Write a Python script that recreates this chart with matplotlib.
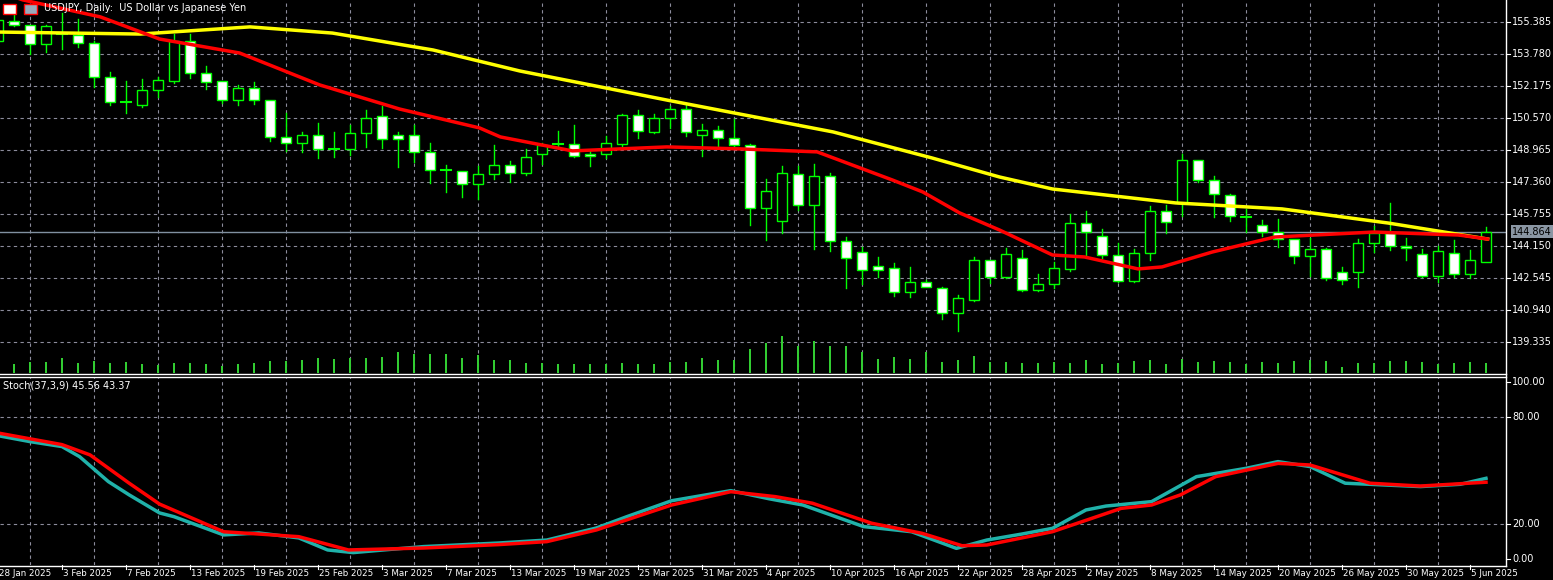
import matplotlib
matplotlib.use("Agg")
import matplotlib.pyplot as plt
import numpy as np

W, H = 1553, 580
# ---------------- data ----------------
idx = list(range(-1, 93))
opens = [154.43,155.44,155.24,154.28,154.80,154.73,154.33,152.63,151.37,151.22,151.98,152.43,154.43,152.83,152.43,151.47,152.08,151.47,149.62,149.32,149.72,149.02,149.02,149.82,150.67,149.72,149.72,148.87,147.96,147.91,147.26,147.76,148.21,147.81,148.77,149.22,149.27,148.77,148.77,149.27,150.72,149.87,150.57,151.02,149.72,149.97,149.57,149.22,146.06,145.40,147.76,146.21,147.66,144.40,143.85,143.15,143.05,141.84,142.35,142.05,140.79,141.44,143.45,142.60,143.55,141.94,142.25,143.00,145.30,144.65,143.70,142.40,143.80,145.91,146.31,148.46,147.46,146.71,145.61,145.20,144.85,144.50,143.65,144.00,142.85,142.85,144.30,144.80,144.15,143.75,142.65,143.80,142.75,143.35]
highs = [155.74,155.74,155.24,155.24,155.84,155.54,154.43,152.88,152.43,152.53,152.63,154.78,154.78,153.18,152.43,152.23,152.38,151.47,150.82,149.87,150.32,149.87,150.22,150.97,151.17,149.87,150.22,149.32,148.21,147.91,148.16,149.22,148.41,149.02,149.32,149.92,150.22,148.97,149.67,150.77,150.97,150.77,151.17,151.22,150.27,150.17,150.52,149.27,147.51,148.16,148.16,148.26,147.81,144.60,144.10,143.60,143.30,143.10,142.45,142.10,141.69,143.60,143.45,144.05,143.95,142.75,143.35,145.76,145.91,145.00,144.30,144.00,146.16,146.21,148.77,148.46,147.66,146.76,146.01,145.45,145.50,144.50,144.55,144.05,143.10,144.50,145.15,146.31,144.55,144.00,144.15,144.45,143.95,145.10]
lows = [154.33,155.19,153.78,153.88,154.03,154.13,152.13,151.22,150.82,151.12,151.62,152.33,152.58,152.03,151.32,151.22,151.27,149.42,148.92,148.87,148.57,148.62,148.72,149.12,149.07,148.11,148.36,147.31,146.86,146.61,146.51,147.51,147.36,147.71,148.26,149.12,148.62,148.16,148.57,149.17,149.57,149.82,150.07,149.67,148.67,149.07,149.12,145.20,144.45,144.80,145.96,144.00,143.90,142.05,142.25,142.60,141.64,141.59,142.10,140.49,139.89,141.40,142.30,142.55,141.90,141.90,142.05,142.90,143.70,143.55,142.35,142.35,143.45,144.80,145.66,147.36,145.61,145.40,144.85,144.65,144.10,143.30,142.65,142.45,142.25,142.10,143.85,143.95,143.45,142.60,142.35,142.60,142.55,143.35]
closes = [155.49,155.24,154.28,155.19,154.78,154.33,152.63,151.37,151.35,151.98,152.48,154.43,152.83,152.38,151.47,152.08,151.47,149.62,149.32,149.72,149.02,149.00,149.82,150.57,149.52,149.52,148.87,147.96,147.94,147.26,147.76,148.21,147.81,148.62,149.22,149.27,148.67,148.67,149.32,150.72,149.92,150.57,151.02,149.87,149.97,149.57,149.22,146.06,146.91,147.81,146.21,147.66,144.40,143.55,142.95,142.95,141.84,142.35,142.10,140.79,141.54,143.45,142.60,143.75,141.94,142.25,143.05,145.30,144.85,143.70,142.40,143.80,145.91,145.36,148.46,147.46,146.76,145.66,145.59,144.85,144.50,143.65,144.00,142.55,142.45,144.30,144.80,144.15,144.05,142.65,143.90,142.75,143.45,144.864]
volume = [28,34,34,46,31,37,31,34,28,25,31,31,28,22,28,31,37,37,40,46,43,46,46,49,64,58,58,58,46,55,40,40,31,31,28,28,28,28,31,28,28,34,34,46,40,40,73,91,
          112,80,95,82,82,62,43,49,43,64,34,40,52,34,34,31,31,34,31,40,28,31,37,40,28,43,34,37,34,28,34,31,37,40,37,19,31,31,37,37,34,28,31,34,31]
ma_fast_idx = [-0.9,0.56,5.4,9.1,14.1,19.1,24.1,29.1,30.4,34.9,40.8,45.4,50.2,54.9,56.8,59.1,61.6,64.9,66.9,70.25,71.75,74.9,78.8,85.0,90.3,92.1]
ma_fast = [156.9,156.49,155.64,154.53,153.83,152.23,151.02,150.07,149.62,148.92,149.12,149.02,148.87,147.46,146.86,145.81,144.95,143.70,143.60,143.00,143.10,143.85,144.60,144.85,144.70,144.50]
ma_slow_idx = [-0.9,7.9,14.75,19.9,26.2,31.6,40.8,51.2,57.4,61.6,64.9,72.6,79.25,85.9,92.1]
ma_slow = [154.88,154.78,155.14,154.83,153.98,152.93,151.47,149.87,148.56,147.61,147.01,146.31,146.01,145.30,144.50]
stk_idx = [-0.9,1.0,3.0,4.1,5.9,7.2,9.1,10,13.1,15.3,17.8,19.6,21.2,23.1,25.6,30.25,33.3,36.4,38.3,41.1,44.8,47.2,49.3,53.1,56.1,58.9,60.8,63,64.9,67,68.25,71.1,73.9,77,79,81,83.2,87.9,90.4,92]
stk = [69.5,66.3,63.5,57.8,43.7,36.2,26,23.9,13.6,14.7,11.9,5.1,3.6,5.1,7,9,10.7,17.5,23.9,32.9,38.6,34.0,30.5,18.3,15.4,6,10.7,14.1,17.3,27.7,29.9,32.4,46.5,51.2,55,52.2,42.8,40.9,42.2,45.56]
sig_idx = [-0.9,3.0,4.75,7.2,9.1,13.1,17.8,20.9,25.6,30.25,33.3,36.4,41.1,44.8,47.6,49.9,53.6,56.75,59.25,60.8,64.9,69.2,71.1,72.9,75.1,79,81,84.75,87.9,92]
sig = [71,64.6,58.8,42.8,31,15.4,12.6,5.1,6.2,8.1,9.8,16.4,30.5,38,35.2,31.5,20.2,14.5,7.5,7.9,15.4,28.6,30.5,36.2,46.5,54,53.1,42.8,41.2,43.37]
date_labels = ["28 Jan 2025","3 Feb 2025","7 Feb 2025","13 Feb 2025","19 Feb 2025","25 Feb 2025","3 Mar 2025","7 Mar 2025","13 Mar 2025","19 Mar 2025","25 Mar 2025","31 Mar 2025","4 Apr 2025","10 Apr 2025","16 Apr 2025","22 Apr 2025","28 Apr 2025","2 May 2025","8 May 2025","14 May 2025","20 May 2025","26 May 2025","30 May 2025","5 Jun 2025"]
price_ticks = [155.385,153.780,152.175,150.570,148.965,147.360,145.755,144.150,142.545,140.940,139.335]
stoch_ticks = [100.0,80.0,20.0,0.0]
last_price = 144.864

# ---------------- layout ----------------
fig = plt.figure(figsize=(W/100, H/100), dpi=100, facecolor="black")
def fx(px): return px / W
def fy(py): return 1 - py / H
axw = 1506
XL = (-0.875, 93.25)
ax = fig.add_axes([0, fy(373), fx(axw), 373/H], facecolor="black")
ax.set_xlim(*XL); ax.set_ylim(137.78, 156.488)
sx = fig.add_axes([0, fy(565), fx(axw), 188/H], facecolor="black")
sx.set_xlim(*XL); sx.set_ylim(-3.4, 102.8)
for a in (ax, sx):
    for s in a.spines.values(): s.set_visible(False)
    a.set_xticks([]); a.set_yticks([])

gcol = "#8c8c9c"
gkw = dict(color=gcol, lw=0.8, ls=(0, (3, 3)), zorder=0)
for k in range(1, 93, 4):
    ax.axvline(k, **gkw); sx.axvline(k, **gkw)
for p in price_ticks:
    ax.axhline(p, **gkw)
for v in (80, 20):
    sx.axhline(v, **gkw)

# volume
vx = ax.twinx()
vx.set_ylim(0, 373*3); vx.set_xlim(*XL); vx.axis("off")
vx.bar(np.arange(0, 93), volume, width=0.13, color="#32cd32", zorder=1)

ax.axhline(last_price, color="#8090a0", lw=1, zorder=1)

green = "#00ff00"
bw = 0.62
for k, o, h, l, c in zip(idx, opens, highs, lows, closes):
    top, bot = max(o, c), min(o, c)
    ax.plot([k, k], [h, top], color=green, lw=1, zorder=3)
    ax.plot([k, k], [bot, l], color=green, lw=1, zorder=3)
    if top - bot < 0.06:
        ax.plot([k-bw/2, k+bw/2], [c, c], color=green, lw=1.5, zorder=3)
    else:
        ax.add_patch(plt.Rectangle((k-bw/2, bot), bw, top-bot,
                     facecolor="white" if c < o else "black", edgecolor=green, lw=1, zorder=3))

ax.plot(ma_slow_idx, ma_slow, color="#ffff00", lw=2.5, zorder=4)
ax.plot(ma_fast_idx, ma_fast, color="#ff0000", lw=2.5, zorder=5)

sx.plot(stk_idx, stk, color="#20b2aa", lw=2.5, zorder=3)
sx.plot(sig_idx, sig, color="#ff0000", lw=2.5, zorder=4)

# borders
fig.add_artist(plt.Line2D([fx(axw), fx(axw)], [fy(0), fy(566)], color="white", lw=1))
for yy in (373.5, 376.5, 565.5):
    fig.add_artist(plt.Line2D([0, fx(axw)], [fy(yy), fy(yy)], color="white", lw=1))

tk = dict(color="white", fontsize=7, va="center", ha="left", family="DejaVu Sans")
for p in price_ticks:
    yy = 373 * (156.488 - p) / (156.488 - 137.78)
    fig.text(fx(1512), fy(yy), f"{p:.3f}", **tk)
    fig.add_artist(plt.Line2D([fx(axw), fx(axw+4)], [fy(yy), fy(yy)], color="white", lw=0.8))
yy = 373 * (156.488 - last_price) / (156.488 - 137.78)
fig.text(fx(1512), fy(yy), f"{last_price:.3f}", color="black", fontsize=7, va="center", ha="left",
         bbox=dict(boxstyle="square,pad=0.15", fc="#8a96a3", ec="none"))
for v in stoch_ticks:
    yy = 377 + 188 * (102.8 - v) / 106.2
    fig.text(fx(1512), fy(yy), f"{v:.2f}", **tk)
    fig.add_artist(plt.Line2D([fx(axw), fx(axw+4)], [fy(yy), fy(yy)], color="white", lw=0.8))

for i, lab in enumerate(date_labels):
    k = -1 + 4*i
    px = (k - XL[0]) / (XL[1] - XL[0]) * axw
    fig.text(fx(px + 1), fy(573), lab, color="white", fontsize=6.3, ha="left", va="center")
    fig.add_artist(plt.Line2D([fx(px), fx(px)], [fy(565), fy(569)], color="white", lw=0.8))

fig.text(fx(44), fy(8), "USDJPY, Daily:  US Dollar vs Japanese Yen", color="white", fontsize=7, va="center")
fig.add_artist(plt.Rectangle((fx(3), fy(14)), fx(13), 10/H, fc="white", ec="red", lw=1))
fig.add_artist(plt.Rectangle((fx(24), fy(14)), fx(13), 10/H, fc="#9ab", ec="red", lw=1))
fig.text(fx(3), fy(386), "Stoch(37,3,9) 45.56 43.37", color="white", fontsize=7, va="center")

fig.savefig("out.png", dpi=100, facecolor="black")
